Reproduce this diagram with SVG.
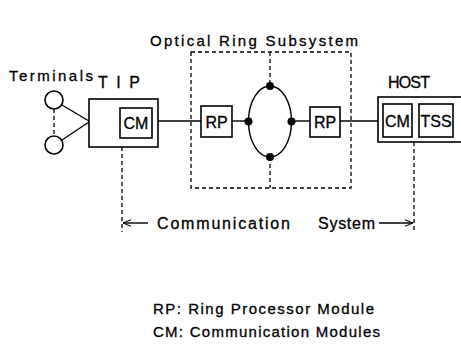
<svg xmlns="http://www.w3.org/2000/svg" width="461" height="345" viewBox="0 0 461 345">
<style>
text{font-family:"Liberation Sans",Arial,sans-serif;fill:#000;font-size:16px;stroke:#000;stroke-width:0.3}
.box{fill:#fff;stroke:#000;stroke-width:1.6}
.ln{fill:none;stroke:#000;stroke-width:1.4}
.dash{fill:none;stroke:#000;stroke-width:1.3;stroke-dasharray:4,3}
.dot{fill:#000}
.c{text-anchor:middle}
.s{font-size:15px}
</style>
<defs>
<marker id="ah" viewBox="0 0 10 10" refX="10" refY="5" markerWidth="8" markerHeight="8" orient="auto-start-reverse" markerUnits="userSpaceOnUse">
<path d="M0,1 L10,5 L0,9" fill="none" stroke="#000" stroke-width="1.3"/>
</marker>
</defs>
<rect width="461" height="345" fill="#fff"/>
<text class="s" x="150" y="46" textLength="208" lengthAdjust="spacing">Optical Ring Subsystem</text>
<g id="connectors">
<line class="ln" x1="62" y1="105" x2="89" y2="121"/>
<line class="ln" x1="62" y1="140" x2="89" y2="122"/>
<line class="dash" x1="54" y1="109" x2="54" y2="136"/>
<line class="ln" x1="158" y1="121" x2="201" y2="121"/>
<line class="ln" x1="232" y1="121" x2="248" y2="121"/>
<line class="ln" x1="291" y1="121" x2="310" y2="121"/>
<line class="ln" x1="340" y1="121" x2="378" y2="121"/>
<line class="dash" x1="270" y1="52" x2="270" y2="86"/>
<line class="dash" x1="270" y1="157" x2="270" y2="188"/>
<line class="dash" x1="122" y1="147" x2="122" y2="232"/>
<line class="dash" x1="414" y1="142" x2="414" y2="232"/>
<line class="ln" x1="148" y1="223" x2="123" y2="223" marker-end="url(#ah)"/>
<line class="ln" x1="379" y1="223" x2="413" y2="223" marker-end="url(#ah)"/>
</g>
<g id="terminals">
<text class="s" x="9" y="81" textLength="84" lengthAdjust="spacing">Terminals</text>
<circle class="box" cx="54" cy="100" r="9"/>
<circle class="box" cx="54" cy="145" r="9"/>
</g>
<g id="tip">
<text x="98" y="88" textLength="42" lengthAdjust="spacing">TIP</text>
<rect class="box" x="89" y="99" width="69" height="48"/>
<rect class="box" x="120" y="108" width="32" height="30"/>
<text class="c" x="136" y="129">CM</text>
</g>
<g id="ring-subsystem">
<rect class="dash" x="191" y="52" width="160" height="136"/>
<rect class="box" x="201" y="106" width="31" height="31"/>
<text class="c" x="216.5" y="127.5">RP</text>
<ellipse class="ln" cx="270" cy="121.5" rx="21.5" ry="35.5"/>
<circle class="dot" cx="248.5" cy="121.5" r="4"/>
<circle class="dot" cx="291.5" cy="121.5" r="4"/>
<circle class="dot" cx="270" cy="86" r="4"/>
<circle class="dot" cx="270" cy="157" r="4"/>
<rect class="box" x="310" y="107" width="30" height="30"/>
<text class="c" x="325" y="127.5">RP</text>
</g>
<g id="host">
<text x="388" y="88" textLength="42" lengthAdjust="spacing">HOST</text>
<rect class="box" x="378" y="97" width="90" height="45"/>
<rect class="box" x="383" y="104" width="29" height="33"/>
<text class="c" x="397.5" y="126.5">CM</text>
<rect class="box" x="419" y="104" width="34" height="33"/>
<text class="c" x="436" y="126.5">TSS</text>
</g>
<g id="communication-system">
<text x="157" y="229" textLength="133" lengthAdjust="spacing">Communication</text>
<text x="318" y="229" textLength="57" lengthAdjust="spacing">System</text>
</g>
<g id="legend">
<text class="s" x="153" y="314" textLength="221" lengthAdjust="spacing">RP: Ring Processor Module</text>
<text class="s" x="153" y="337" textLength="227" lengthAdjust="spacing">CM: Communication Modules</text>
</g>
</svg>
